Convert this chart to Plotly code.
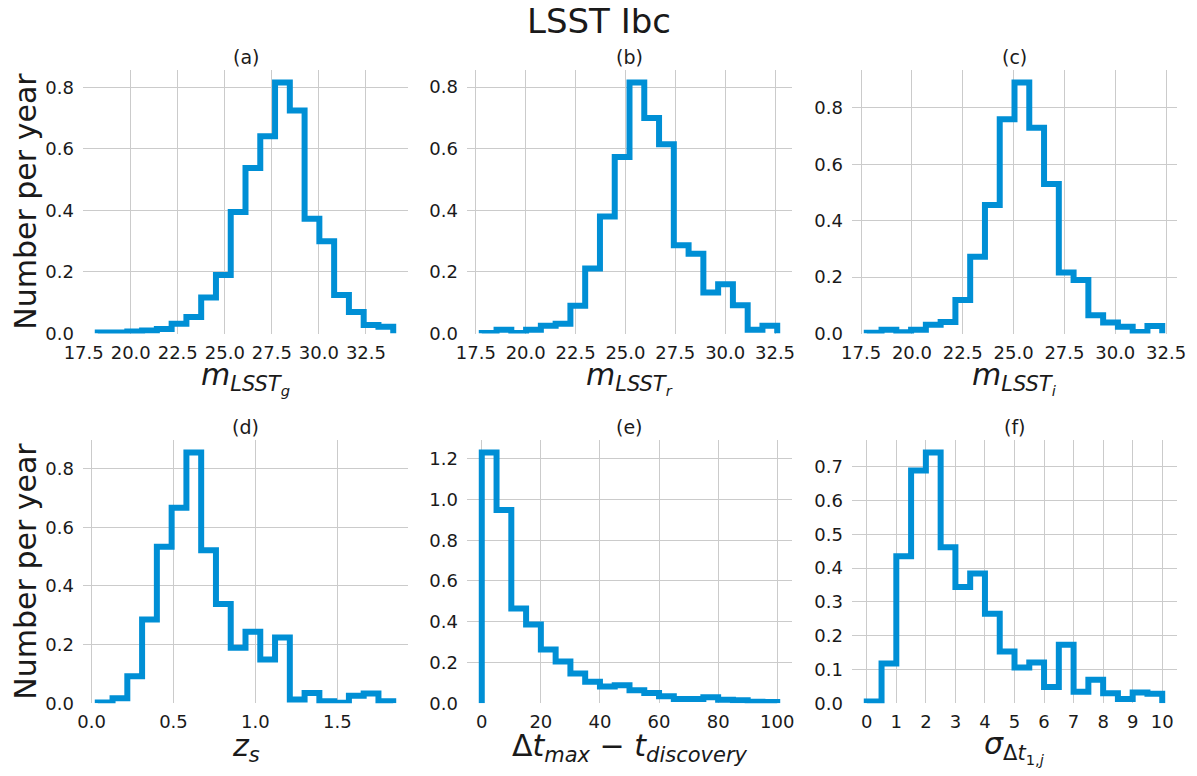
import plotly.graph_objects as go

W, H = 1197, 776
OFF = 8  # page body margin of the browser

# ---- data: bin ranges (20 equal bins each) and heights (number per year) ----
a_range = [18.25, 33.95]
a_vals = [0.003, 0.003, 0.0065, 0.010, 0.015, 0.032, 0.054, 0.117, 0.190, 0.395,
          0.538, 0.641, 0.816, 0.725, 0.373, 0.300, 0.125, 0.070, 0.028, 0.022]
b_range = [17.80, 32.61]
b_vals = [0.002, 0.012, 0.002, 0.012, 0.025, 0.032, 0.090, 0.211, 0.380, 0.573,
          0.815, 0.700, 0.615, 0.287, 0.259, 0.133, 0.160, 0.092, 0.012, 0.025]
c_range = [17.78, 32.31]
c_vals = [0.003, 0.013, 0.004, 0.013, 0.031, 0.041, 0.119, 0.272, 0.456, 0.760,
          0.890, 0.730, 0.530, 0.216, 0.190, 0.065, 0.039, 0.024, 0.005, 0.027]
d_range = [0.038, 1.841]
d_vals = [0.003, 0.017, 0.092, 0.286, 0.534, 0.667, 0.855, 0.522, 0.339, 0.189,
          0.244, 0.149, 0.224, 0.013, 0.035, 0.007, 0.002, 0.026, 0.033, 0.007]
e_range = [0, 100]
e_vals = [1.230, 0.948, 0.465, 0.386, 0.264, 0.205, 0.146, 0.106, 0.083, 0.088,
          0.064, 0.051, 0.034, 0.021, 0.021, 0.030, 0.018, 0.015, 0.008, 0.006]
f_range = [0, 10]
f_vals = [0.005, 0.118, 0.435, 0.689, 0.742, 0.462, 0.344, 0.384, 0.265, 0.153,
          0.106, 0.121, 0.048, 0.173, 0.034, 0.070, 0.030, 0.013, 0.032, 0.028]

panel_titles = ["(a)", "(b)", "(c)", "(d)", "(e)", "(f)"]
x_labels = [
    "<i>m</i><sub><i>LSST<sub>g</sub></i></sub>",
    "<i>m</i><sub><i>LSST<sub>r</sub></i></sub>",
    "<i>m</i><sub><i>LSST<sub>i</sub></i></sub>",
    "<i>z<sub>s</sub></i>",
    "Δ<i>t<sub>max</sub></i> − <i>t<sub>discovery</sub></i>",
    "<i>σ</i><sub>Δ<i>t</i><sub>1,<i>j</i></sub></sub>",
]
x_ticks = [
    [17.5, 20.0, 22.5, 25.0, 27.5, 30.0, 32.5],
    [17.5, 20.0, 22.5, 25.0, 27.5, 30.0, 32.5],
    [17.5, 20.0, 22.5, 25.0, 27.5, 30.0, 32.5],
    [0.0, 0.5, 1.0, 1.5],
    [0, 20, 40, 60, 80, 100],
    [0, 1, 2, 3, 4, 5, 6, 7, 8, 9, 10],
]
x_fmt = [".1f", ".1f", ".1f", ".1f", "d", "d"]
y_ticks = [
    [0.0, 0.2, 0.4, 0.6, 0.8],
    [0.0, 0.2, 0.4, 0.6, 0.8],
    [0.0, 0.2, 0.4, 0.6, 0.8],
    [0.0, 0.2, 0.4, 0.6, 0.8],
    [0.0, 0.2, 0.4, 0.6, 0.8, 1.0, 1.2],
    [0.0, 0.1, 0.2, 0.3, 0.4, 0.5, 0.6, 0.7],
]
main_title = "LSST Ibc"
y_label = "Number per year"

ranges = [a_range, b_range, c_range, d_range, e_range, f_range]
values = [a_vals, b_vals, c_vals, d_vals, e_vals, f_vals]

# ---- layout (screen pixels, converted to figure pixels with OFF) ----
FW, FH = W - 2 * OFF, H - 2 * OFF
cols = [(83, 408), (467, 792), (852, 1177)]
rows = [(70, 333.5), (440, 703.3)]
LINE = "#008fd5"
GRID = "#cbcbcb"
TXT = "#1a1a1a"
FONT = "DejaVu Sans"


def px(x):
    return (x - OFF) / FW


def py(y):
    return 1 - (y - OFF) / FH


fig = go.Figure()
annotations = []
for i in range(6):
    r, c = divmod(i, 3)
    x0p, x1p = cols[c]
    y0p, y1p = rows[r]
    lo, hi = ranges[i]
    vals = values[i]
    n = len(vals)
    w = (hi - lo) / n
    edges = [lo + k * w for k in range(n + 1)]
    xs = [edges[0]] + edges[:n] + [edges[n]]
    ys = [0] + list(vals) + [0]
    ax = "" if i == 0 else str(i + 1)
    fig.add_trace(go.Scatter(x=xs, y=ys, mode="lines", line=dict(color=LINE, width=6, shape="hv"),
                             xaxis="x" + ax, yaxis="y" + ax, showlegend=False, hoverinfo="skip"))
    span = hi - lo
    xr = [lo - 0.05 * span, hi + 0.05 * span]
    yr = [0, 1.05 * max(vals)]
    common = dict(showgrid=True, gridcolor=GRID, gridwidth=1, zeroline=False, showline=False,
                  ticks="", automargin=False, tickfont=dict(family=FONT, size=18, color=TXT))
    fig.update_layout(**{
        "xaxis" + ax: dict(domain=[px(x0p), px(x1p)], range=xr, tickvals=x_ticks[i],
                           tickformat=x_fmt[i], anchor="y" + ax, ticklabelstandoff=6, **common),
        "yaxis" + ax: dict(domain=[py(y1p), py(y0p)], range=yr, tickvals=y_ticks[i],
                           tickformat=".1f", anchor="x" + ax, ticklabelstandoff=8, **common),
    })
    cx = px((x0p + x1p) / 2)
    annotations.append(dict(text=panel_titles[i], x=cx, y=py(y0p - 13), xref="paper", yref="paper",
                            xanchor="center", yanchor="middle", showarrow=False,
                            font=dict(family=FONT, size=19, color=TXT)))
    annotations.append(dict(text=x_labels[i], x=cx, y=py(y1p + 44), xref="paper", yref="paper",
                            xanchor="center", yanchor="middle", showarrow=False,
                            font=dict(family=FONT, size=30, color=TXT)))
    if c == 0:
        annotations.append(dict(text=y_label, x=px(26), y=py((y0p + y1p) / 2), xref="paper", yref="paper",
                                xanchor="center", yanchor="middle", showarrow=False, textangle=-90,
                                font=dict(family=FONT, size=30, color=TXT)))

annotations.append(dict(text=main_title, x=px(W / 2), y=py(21), xref="paper", yref="paper",
                        xanchor="center", yanchor="middle", showarrow=False,
                        font=dict(family=FONT, size=34, color=TXT)))

fig.update_layout(width=FW, height=FH, margin=dict(l=0, r=0, t=0, b=0, autoexpand=False),
                  template="none",
                  paper_bgcolor="white", plot_bgcolor="white", annotations=annotations,
                  font=dict(family=FONT, color=TXT))
fig.write_html("out.html")
